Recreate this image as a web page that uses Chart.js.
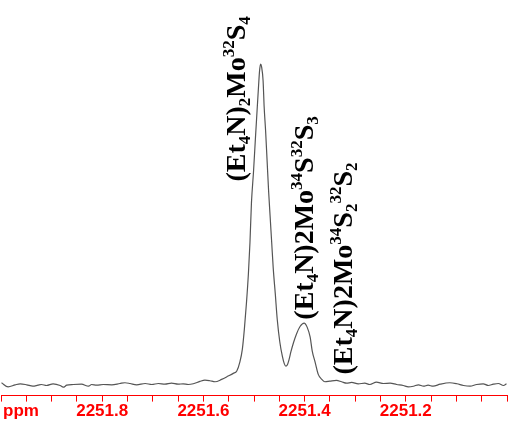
<!DOCTYPE html>
<html>
<head>
<meta charset="utf-8">
<script src="https://cdn.jsdelivr.net/npm/chart.js@4"></script>
<style>
  html, body { margin: 0; padding: 0; background: #fff; }
  canvas { display: block; }
</style>
</head>
<body>
<canvas id="spectrum" width="512" height="426"></canvas>
<script>
// chemical shift (ppm) and relative intensity
const ppm = [
  2251.999, 2251.986, 2251.972, 2251.962, 2251.949, 2251.937, 2251.927, 2251.920,
  2251.910, 2251.897, 2251.883, 2251.877, 2251.870, 2251.857, 2251.841, 2251.827,
  2251.821, 2251.811, 2251.798, 2251.781, 2251.765, 2251.755, 2251.745, 2251.732,
  2251.715, 2251.702, 2251.689, 2251.676, 2251.663, 2251.650, 2251.640, 2251.630,
  2251.620, 2251.607, 2251.597, 2251.587, 2251.577, 2251.564, 2251.551, 2251.541,
  2251.534, 2251.528, 2251.523, 2251.519, 2251.515, 2251.511, 2251.508, 2251.505,
  2251.501, 2251.497, 2251.494, 2251.491, 2251.489, 2251.487, 2251.485, 2251.482,
  2251.480, 2251.477, 2251.474, 2251.471, 2251.468, 2251.465, 2251.462, 2251.458,
  2251.454, 2251.449, 2251.444, 2251.440, 2251.437, 2251.434, 2251.431, 2251.427,
  2251.422, 2251.416, 2251.409, 2251.401, 2251.395, 2251.389, 2251.385, 2251.379,
  2251.373, 2251.366, 2251.360, 2251.350, 2251.337, 2251.327, 2251.317, 2251.307,
  2251.294, 2251.281, 2251.271, 2251.258, 2251.244, 2251.231, 2251.218, 2251.205,
  2251.195, 2251.185, 2251.175, 2251.165, 2251.156, 2251.146, 2251.132, 2251.113,
  2251.099, 2251.086, 2251.073, 2251.060, 2251.047, 2251.037, 2251.027, 2251.017,
  2251.007, 2251.001
];
const intensity = [
  0.51, -0.76, -0.13, 0.19, -0.13, -0.57, -0.25, -0.03,
  -0.35, 0.19, -0.35, -0.88, -0.25, -0.03, 0.06, -0.57,
  -0.03, -0.25, -0.03, -0.13, 0.28, 0.51, 0.28, -0.13,
  0.28, -0.03, 0.28, 0.06, 0.38, 0.06, 0.19, -0.03,
  0.19, 0.92, 1.33, 1.14, 0.82, 1.55, 2.59, 3.44,
  4.17, 6.92, 11.02, 17.34, 25.24, 34.71, 44.19, 56.82,
  66.30, 77.35, 85.25, 93.15, 97.88, 100.0, 99.15, 94.73,
  86.83, 78.93, 69.46, 59.98, 52.08, 44.19, 36.29, 28.40,
  20.18, 13.23, 8.81, 6.40, 5.70, 6.10, 7.60, 10.20,
  13.00, 15.76, 18.07, 19.14, 17.88, 14.72, 10.49, 6.82,
  3.13, 1.55, 0.82, 1.01, 1.23, 0.82, 0.38, 0.60,
  0.19, 0.38, -0.03, 0.69, 0.28, 0.38, -0.03, -0.35,
  -0.76, -0.57, -0.13, -0.57, -0.25, -0.57, 0.06, 0.51,
  0.19, -0.35, -0.57, -0.03, 0.19, -0.35, 0.06, 0.28,
  -0.35, 0.19
];
const tickLabels = ['2251.8', '2251.6', '2251.4', '2251.2'];

// peak assignments: [text, '' | 'sub' | 'sup']
const peakNames = [
  [['(Et', ''], ['4', 'sub'], ['N)', ''], ['2', 'sub'], ['Mo', ''], ['32', 'sup'], ['S', ''], ['4', 'sub']],
  [['(Et', ''], ['4', 'sub'], ['N)2Mo', ''], ['34', 'sup'], ['S', ''], ['32', 'sup'], ['S', ''], ['3', 'sub']],
  [['(Et', ''], ['4', 'sub'], ['N)2Mo', ''], ['34', 'sup'], ['S', ''], ['2', 'sub'], ['32', 'sup'], ['S', ''], ['2', 'sub']]
];
// where each assignment starts (ppm, intensity)
const peakNameAt = [
  { x: 2251.518, y: 63.3 },
  { x: 2251.384, y: 20.2 },
  { x: 2251.306, y: 3.1 }
];

const red = '#ff0000';
const tickLen = 6, tickPad = 0;

const peakLabels = {
  id: 'peakLabels',
  afterDatasetsDraw(chart) {
    const ctx = chart.ctx;
    const xs = chart.scales.x, ys = chart.scales.y;
    ctx.save();
    ctx.fillStyle = '#000';
    ctx.textBaseline = 'alphabetic';
    ctx.textAlign = 'left';
    peakNames.forEach((segs, i) => {
      const at = peakNameAt[i];
      ctx.save();
      ctx.translate(xs.getPixelForValue(at.x), ys.getPixelForValue(at.y));
      ctx.rotate(-Math.PI / 2);
      let pos = 0;
      segs.forEach(([text, kind]) => {
        const size = kind ? 17 : 28;
        ctx.font = 'bold ' + size + 'px "Liberation Serif", "Times New Roman", serif';
        const dy = kind === 'sup' ? -11 : (kind === 'sub' ? 5 : 0);
        ctx.fillText(text, pos, dy);
        pos += ctx.measureText(text).width;
      });
      ctx.restore();
    });
    ctx.restore();
  },
  afterDraw(chart) {
    // unit label at the left end of the axis
    const ctx = chart.ctx;
    const xs = chart.scales.x;
    ctx.save();
    ctx.font = 'bold 17px "Liberation Sans", Arial, sans-serif';
    ctx.fillStyle = red;
    ctx.textBaseline = 'middle';
    ctx.textAlign = 'left';
    ctx.fillText('ppm', xs.left + 2, xs.top + tickLen + tickPad + 10.2);
    ctx.restore();
  }
};

new Chart(document.getElementById('spectrum'), {
  type: 'line',
  data: {
    datasets: [{
      data: ppm.map((p, i) => ({ x: p, y: intensity[i] })),
      borderColor: '#555555',
      borderWidth: 1.2,
      pointRadius: 0,
      fill: false,
      cubicInterpolationMode: 'monotone'
    }]
  },
  options: {
    responsive: false,
    animation: false,
    layout: { padding: { left: 1, right: 5, top: 0, bottom: 4 } },
    plugins: { legend: { display: false }, tooltip: { enabled: false } },
    scales: {
      x: {
        type: 'linear',
        reverse: true,
        min: 2251.0,
        max: 2252.0,
        border: { color: red, width: 1 },
        grid: { drawOnChartArea: false, drawTicks: true, tickLength: tickLen, color: red },
        ticks: {
          stepSize: 0.05,
          autoSkip: false,
          maxRotation: 0,
          padding: tickPad,
          color: red,
          font: { family: '"Liberation Sans", Arial, sans-serif', size: 17, weight: 'bold' },
          callback: function(v) {
            let s = (Math.round(v * 100) / 100).toFixed(2);
            s = s.slice(0, -1);
            const exact = Math.abs(v * 10 - Math.round(v * 10)) < 1e-6;
            return exact && tickLabels.includes(s) ? s : '';
          }
        }
      },
      y: {
        display: false,
        min: -3.5,
        max: 120
      }
    }
  },
  plugins: [peakLabels]
});
</script>
</body>
</html>
